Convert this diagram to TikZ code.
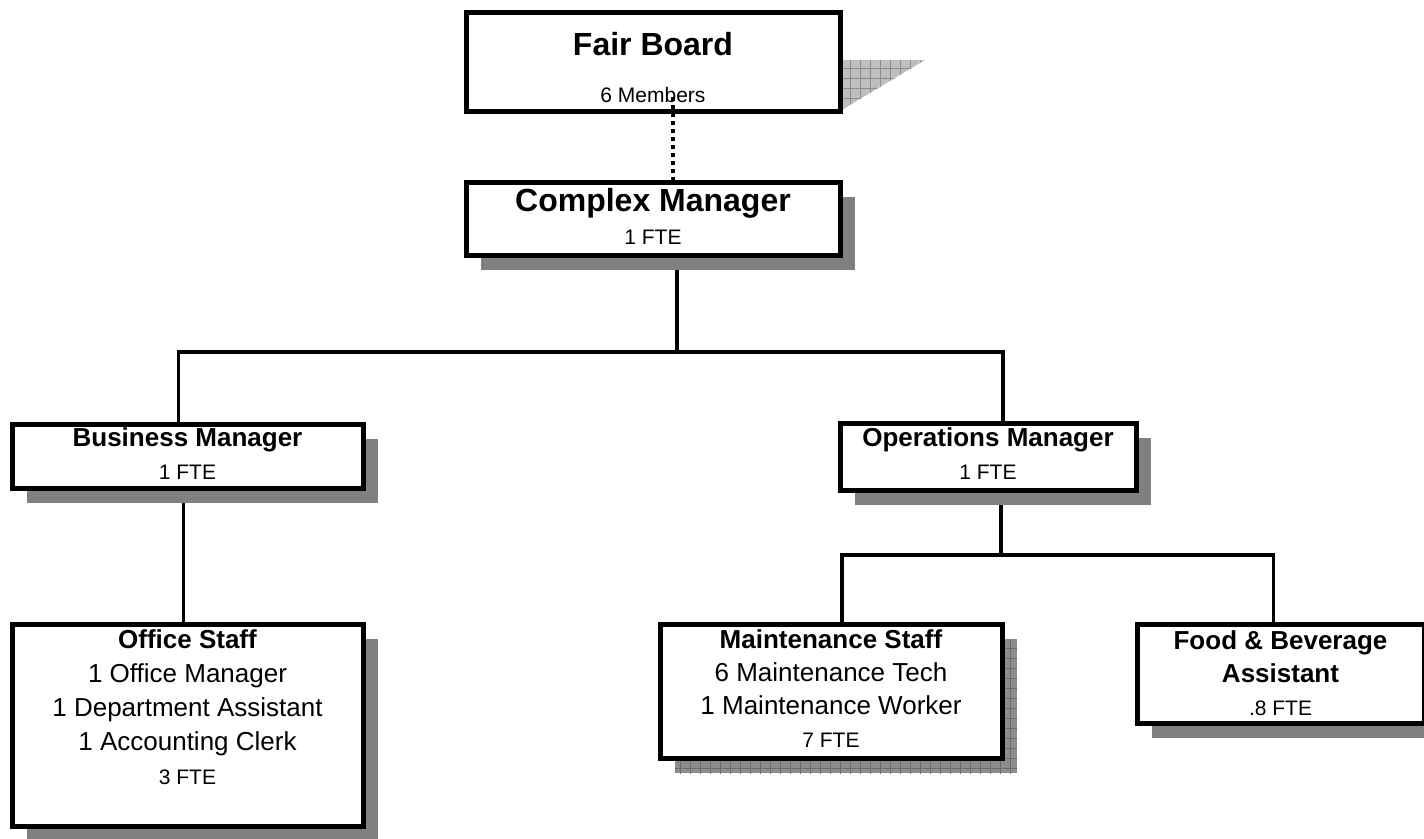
\documentclass[tikz,border=0pt]{standalone}
\usepackage{fontspec}
\setmainfont{Liberation Sans}
\usetikzlibrary{positioning,shadows,backgrounds,patterns.meta}
\newcommand\fte[1]{{\fontsize{21}{24}\selectfont #1}}
\tikzset{
  box/.style={draw, line width=5pt, fill=white, inner sep=0pt, outer sep=0pt},
  shade/.style={drop shadow={shadow xshift=15pt, shadow yshift=-15pt, fill=black!50, opacity=1}},
  txt/.style={inner sep=0pt, outer sep=0pt, align=center, font=\fontsize{26}{33}\selectfont},
  link/.style={line width=3.2pt},
  grid/.style={postaction={pattern={Hatch[angle=0, distance=10pt, line width=.8pt]}, pattern color=#1}}
}
\begin{document}
\begin{tikzpicture}[x=1pt, y=-1pt]
\useasboundingbox (0,0) rectangle (1424,838);
\node[box, minimum width=374pt, minimum height=99pt] (fb) at (653,61.5) {};
\node[box, shade, minimum width=374pt, minimum height=73pt] (cm) at (653,218.5) {};
\node[box, shade, minimum width=351pt, minimum height=64pt] (bm) at (187.5,456) {};
\node[box, shade, minimum width=296pt, minimum height=67pt] (om) at (988,456.5) {};
\node[box, shade, minimum width=351pt, minimum height=202pt] (os) at (187.5,725) {};
\node[box, minimum width=342pt, minimum height=134pt] (ms) at (831,691) {};
\node[box, shade, minimum width=287pt, minimum height=99pt] (fo) at (1280.5,673.5) {};

\node[txt, font=\fontsize{32}{47}\selectfont, below=20pt of fb.north] (fbt) {\textbf{Fair Board}\\{\fontsize{21}{24}\selectfont 6 Members}};
\node[txt, font=\fontsize{32}{33}\selectfont, below=6.5pt of cm.north] (cmt) {\textbf{Complex Manager}\\\fte{1 FTE}};
\node[txt, below=4pt of bm.north] (bmt) {\textbf{Business Manager}\\\fte{1 FTE}};
\node[txt, below=5pt of om.north] (omt) {\textbf{Operations Manager}\\\fte{1 FTE}};
\node[txt, font=\fontsize{26}{34}\selectfont, below=6pt of os.north] (ost) {\textbf{Office Staff}\\1 Office Manager\\1 Department Assistant\\1 Accounting Clerk\\\fte{3 FTE}};
\node[txt, below=6pt of ms.north] (mst) {\textbf{Maintenance Staff}\\6 Maintenance Tech\\1 Maintenance Worker\\\fte{7 FTE}};
\node[txt, below=7pt of fo.north] (fot) {\textbf{Food \& Beverage}\\\textbf{Assistant}\\\fte{.8 FTE}};

\coordinate (j1) at (677,352);
\coordinate (j2) at (1001,555);
\begin{scope}[on background layer]
\fill[black!25, grid=black!45] ([yshift=-48pt]fb.north east) -- ++(85,0) -- (fb.south east) -- cycle;
\fill[black!45, grid=black!58] ([shift={(15pt,-15pt)}]ms.south west) rectangle ([shift={(15pt,-15pt)}]ms.north east);
\draw[link] ([xshift=24pt]cm.south) -- (j1);
\draw[link] (j1) -| ([xshift=-9pt]bm.north);
\draw[link] (j1) -| ([xshift=15pt]om.north);
\draw[link] ([xshift=-4pt]bm.south) -- ([xshift=-4pt]os.north);
\draw[link] ([xshift=13pt]om.south) -- (j2);
\foreach \n/\dx in {ms/11pt,fo/-7pt}
  \draw[link] (j2) -| ([xshift=\dx]\n.north);
\end{scope}
\draw[line width=3.5pt, dash pattern=on 4pt off 4pt] ([xshift=20pt,yshift=14pt]fb.south) -- ([xshift=20pt]cm.north);
\end{tikzpicture}
\end{document}
